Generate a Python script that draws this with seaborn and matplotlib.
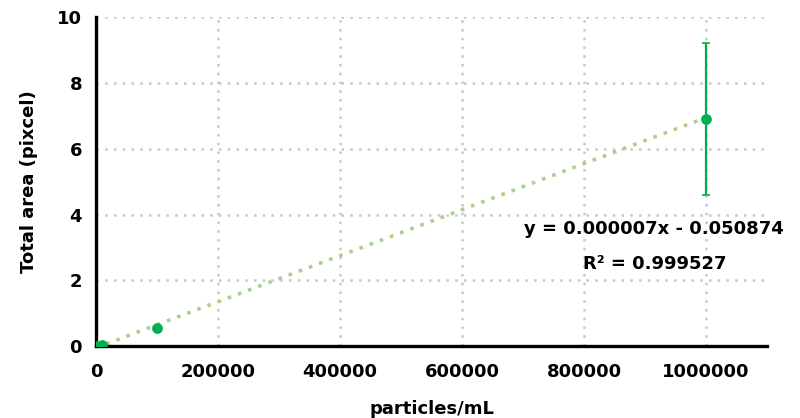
import matplotlib
matplotlib.use("Agg")
import matplotlib.pyplot as plt
import seaborn as sns
import numpy as np
import pandas as pd

# data
conc = [0, 10000, 100000, 1000000]
area = [0.0, 0.04, 0.55, 6.9]
area_err = [0.0, 0.0, 0.0, 2.31]
slope = 0.000007
intercept = -0.050874
r2 = 0.999527
x_ticks = [0, 200000, 400000, 600000, 800000, 1000000]
y_ticks = [0, 2, 4, 6, 8, 10]

sns.set_theme(style="white")
plt.rcParams['font.family'] = ['DejaVu Sans']
plt.rcParams['text.color'] = 'black'
plt.rcParams['axes.labelcolor'] = 'black'
plt.rcParams['xtick.color'] = 'black'
plt.rcParams['ytick.color'] = 'black'

fig = plt.figure(figsize=(8, 4.18), dpi=100)
ax = fig.add_axes([0.12, 0.172, 0.839, 0.787])

green = "#00B050"
trend = "#A9D18E"
grid = "#C8C8C8"

df = pd.DataFrame({"conc": conc, "area": area})

# trendline
tx = [conc[0], conc[-1]]
ty = [slope * v + intercept for v in tx]
sns.lineplot(x=tx, y=ty, ax=ax, color=trend, linestyle=(0, (1, 2.0)), linewidth=2.6, zorder=2)

ax.errorbar(conc, area, yerr=area_err, fmt="none", ecolor=green, elinewidth=1.6, capsize=3, capthick=1.2, zorder=3)
sns.scatterplot(data=df, x="conc", y="area", ax=ax, color=green, s=60, edgecolor=green, linewidth=0, zorder=4)

ax.set_xlim(0, 1100000)
ax.set_ylim(0, 10)
ax.set_xticks(x_ticks)
ax.set_yticks(y_ticks)
ax.set_xticklabels([str(v) for v in x_ticks], fontsize=13, fontweight="bold", color="black")
ax.set_yticklabels([str(v) for v in y_ticks], fontsize=13, fontweight="bold", color="black")
ax.tick_params(axis="both", direction="in", length=5, width=2, color="black", pad=10)
ax.tick_params(axis="x", pad=12)

for v in x_ticks[1:]:
    ax.axvline(v, color=grid, linestyle=(0, (1, 2.5)), linewidth=1.8, zorder=0)
for v in y_ticks[1:]:
    ax.axhline(v, color=grid, linestyle=(0, (1, 2.5)), linewidth=1.8, zorder=0)

for s in ["top", "right"]:
    ax.spines[s].set_visible(False)
for s in ["left", "bottom"]:
    ax.spines[s].set_color("black")
    ax.spines[s].set_linewidth(2.4)

ax.set_xlabel("particles/mL", fontsize=13, fontweight="bold", labelpad=14, color="black")
ax.set_ylabel("Total area (pixcel)", fontsize=13, fontweight="bold", labelpad=14, color="black")

ax.text(915000, 3.57, f"y = {slope:.6f}x - {abs(intercept):.6f}", fontsize=13, fontweight="bold",
        ha="center", va="center", color="black")
ax.text(915000, 2.5, f"R² = {r2:.6f}", fontsize=13, fontweight="bold",
        ha="center", va="center", color="black")

fig.savefig("out.png", dpi=100)
